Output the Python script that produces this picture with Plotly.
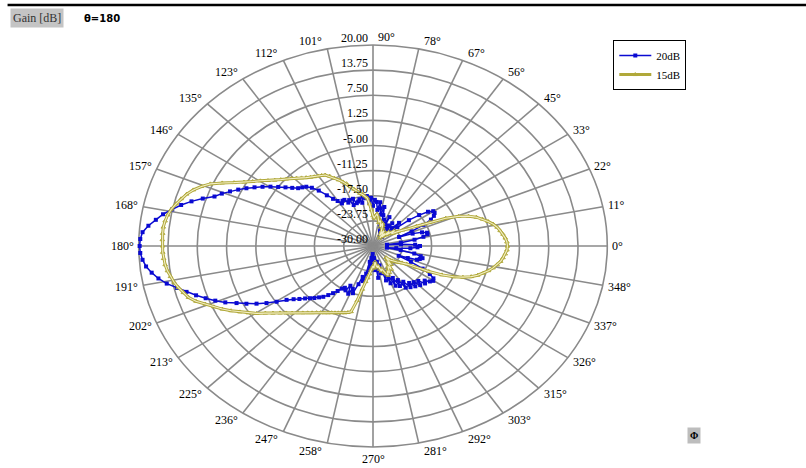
import numpy as np
import plotly.graph_objects as go

# ---------------- data (gain in dB, sampled every 2 degrees) ----------------
PHI_DEG = list(range(0, 360, 2))

GAIN_20DB = [
    -20, -21, -24, -27, -24, -21, -19, -18, -18, -19,          # 0-18
    -21, -24, -21, -18, -16, -15, -14.5, -14.5, -15.5, -17.5,  # 20-38
    -20, -23, -25, -22, -24, -27, -25, -23, -26, -24,          # 40-58
    -27, -25, -22, -24, -26, -23, -25, -22, -20, -22,          # 60-78
    -20.5, -19, -21, -19, -18.5, -20, -18, -19, -17.5, -18,    # 80-98
    -17.5, -19, -18, -18.5, -18.8, -17.5, -19, -17.5, -18, -17,  # 100-118
    -17, -17.5, -16.5, -15.5, -14, -12, -10.5, -9.5, -9, -8.5,   # 120-138
    -7.5, -6.3, -5, -3.6, -2.2, -0.8, 0.6, 2.0, 3.4, 4.8,        # 140-158
    6.0, 8.2, 10.3, 12.2, 13.8, 15.5, 16.8, 18.2, 19.3, 19.7,    # 160-178
    19.8, 19.7, 19.3, 18.7, 17.7, 16.5, 15.0, 13.1, 11.4, 9.7,   # 180-198
    8.0, 6.3, 4.5, 2.4, 0.6, -1.3, -3.2, -5.2, -7.2, -8.5,       # 200-218
    -9.5, -10.5, -11.3, -12, -12.8, -13.5, -14.5, -15.5, -16.5, -17.5,  # 220-238
    -18, -17.5, -19, -17, -18.5, -17.5, -20, -22, -21, -23,      # 240-258
    -26, -24, -27, -25, -28, -26, -24, -27, -25, -22,            # 260-278
    -24, -26, -23, -25, -21, -23, -20, -22, -19, -21,            # 280-298
    -18.5, -20, -17.5, -19, -17, -18, -16.5, -17.5, -16, -17,    # 300-318
    -15.5, -16, -15, -14.5, -14.8, -16, -18, -21, -24, -22,      # 320-338
    -20, -19.5, -19, -19.5, -21, -24, -27, -25, -22, -20.5,      # 340-358
]

GAIN_15DB = [
    -1.3, -1.4, -1.7, -2.1, -2.6, -3.1, -3.8, -4.7, -5.7, -6.8,      # 0-18
    -8.3, -10.3, -13, -16.5, -19.5, -21.5, -22.5, -23.5, -24.5, -25,  # 20-38
    -24, -25.5, -26, -25, -26.5, -27, -26, -27.5, -26.5, -25.5,      # 40-58
    -26, -27, -26, -25, -24.5, -24, -25, -24, -23.5, -24,            # 60-78
    -23, -22.5, -22, -22.5, -23, -22.5, -21, -19.5, -18, -17.4,      # 80-98
    -17, -16.6, -16, -15.3, -14.5, -13.5, -12.8, -12, -11.2, -10.3,  # 100-118
    -9.6, -9.3, -9.0, -8.7, -8.3, -7.8, -7.2, -6.5, -5.8, -5.1,      # 120-138
    -4.3, -3.4, -2.3, -1.0, 0.3, 1.8, 3.6, 5.8, 8.0, 9.5,            # 140-158
    10.8, 11.8, 12.6, 13.3, 14.0, 14.5, 14.8, 15.0, 15.0, 15.0,      # 160-178
    14.9, 14.9, 14.8, 14.6, 14.3, 13.9, 13.4, 12.8, 12.1, 11.4,      # 180-198
    10.2, 8.6, 7.2, 5.8, 4.3, 2.8, 1.4, 0.0, -1.6, -2.9,             # 200-218
    -4.1, -5.1, -6.0, -6.9, -7.6, -8.3, -8.9, -9.5, -10.0, -10.4,    # 220-238
    -10.8, -11.2, -11.5, -11.8, -12.1, -12.3, -12.6, -13.0, -16.0, -19.0,  # 240-258
    -21, -22, -23, -24, -24.5, -25, -24.5, -25.5, -26, -25,          # 260-278
    -24.5, -25, -24, -23.5, -24, -23, -22.5, -22, -23, -22.5,        # 280-298
    -23.5, -24, -23, -24.5, -25, -24, -25.5, -26, -25, -24.5,        # 300-318
    -24, -23.5, -23, -22.5, -21.5, -19.5, -16.5, -13.6, -11.2, -9.3,  # 320-338
    -7.7, -6.5, -5.5, -4.6, -3.8, -3.1, -2.5, -2.1, -1.7, -1.4,      # 340-358
]

SERIES_NAMES = ["20dB", "15dB"]
R_MIN, R_MAX = -30.0, 20.0
RING_LABELS = ["20.00", "13.75", "7.50", "1.25", "-5.00", "-11.25", "-17.50", "-23.75", "-30.00"]
RING_VALUES = [20.0, 13.75, 7.5, 1.25, -5.0, -11.25, -17.5, -23.75, -30.0]
ANGLE_TICKS = [0, 11.25, 22.5, 33.75, 45, 56.25, 67.5, 78.75, 90, 101.25, 112.5, 123.75,
               135, 146.25, 157.5, 168.75, 180, 191.25, 202.5, 213.75, 225, 236.25,
               247.5, 258.75, 270, 281.25, 292.5, 303.75, 315, 326.25, 337.5, 348.75]
ANGLE_LABELS = ["0°", "11°", "22°", "33°", "45°", "56°", "67°", "78°", "90°", "101°", "112°",
                "123°", "135°", "146°", "157°", "168°", "180°", "191°", "202°", "213°", "225°",
                "236°", "247°", "258°", "270°", "281°", "292°", "303°", "315°", "326°", "337°",
                "348°"]

# ---------------- geometry (pixel layout of the elliptical chart) ----------------
W, H = 806, 468
CX, CY = 373.0, 246.0     # centre in px
RX, RY = 234.0, 201.0     # outer ring semi-axes in px
PAD = 1.05
plot_w, plot_h = 2 * PAD * RX, 2 * PAD * RY
ML = CX - PAD * RX
MR = W - (CX + PAD * RX)
MT = CY - PAD * RY
MB = H - (CY + PAD * RY)


def norm(db):
    return (np.asarray(db, dtype=float) - R_MIN) / (R_MAX - R_MIN)


def px_to_paper(px, py):
    return (px - ML) / plot_w, 1 - (py - MT) / plot_h


fig = go.Figure()

SERIF = "Liberation Serif, Times New Roman, serif"
GRID = "#8a8a8a"
BLUE = "#0a0ad2"
OLIVE = "#b0a83a"

# grid rings and spokes as shapes in data coordinates (ellipses in pixel space)
shapes = []
for v in RING_VALUES[:-1]:
    r = float(norm(v))
    shapes.append(dict(type="circle", xref="x", yref="y", x0=-r, x1=r, y0=-r, y1=r,
                       line=dict(color=GRID, width=1.6), layer="below"))
for a in ANGLE_TICKS:
    t = np.deg2rad(a)
    shapes.append(dict(type="line", xref="x", yref="y", x0=0, y0=0,
                       x1=float(np.cos(t)), y1=float(np.sin(t)),
                       line=dict(color=GRID, width=1.6), layer="below"))
# top black rule
x0p, yp = px_to_paper(8, 5)
x1p, _ = px_to_paper(806, 5)
shapes.append(dict(type="line", xref="paper", yref="paper", x0=x0p, x1=x1p, y0=yp, y1=yp,
                   line=dict(color="black", width=2.5)))

# data traces
th_closed = np.deg2rad(np.array(PHI_DEG + [PHI_DEG[0]], dtype=float))
r20 = norm(list(GAIN_20DB) + [GAIN_20DB[0]])
r15 = norm(list(GAIN_15DB) + [GAIN_15DB[0]])

fig.add_trace(go.Scatter(
    x=r20 * np.cos(th_closed), y=r20 * np.sin(th_closed), mode="lines+markers",
    name=SERIES_NAMES[0], cliponaxis=False,
    line=dict(color=BLUE, width=1.5),
    marker=dict(symbol="square", size=4, color=BLUE)))
fig.add_trace(go.Scatter(
    x=r15 * np.cos(th_closed), y=r15 * np.sin(th_closed), mode="lines+markers",
    name=SERIES_NAMES[1], cliponaxis=False,
    line=dict(color=OLIVE, width=3),
    marker=dict(symbol="triangle-up-open", size=4, color=OLIVE, line=dict(width=1))))
# pale core of the olive line (double-line look)
fig.add_trace(go.Scatter(
    x=r15 * np.cos(th_closed), y=r15 * np.sin(th_closed), mode="lines",
    showlegend=False, hoverinfo="skip", cliponaxis=False,
    line=dict(color="#f3efc6", width=1.1)))

annotations = []
# radial labels along the 90 degree spoke
for lab, v in zip(RING_LABELS, RING_VALUES):
    annotations.append(dict(x=0, y=float(norm(v)), xref="x", yref="y", text=lab,
                            showarrow=False, xanchor="right", yanchor="middle",
                            xshift=-3, yshift=7, font=dict(family=SERIF, size=12, color="black")))
# angle labels
for a, lab in zip(ANGLE_TICKS, ANGLE_LABELS):
    t = np.deg2rad(a)
    c, s = np.cos(t), np.sin(t)
    if abs(a - 270) < 1e-6:
        xa, xs, ys = "center", 0, -12
    elif c >= -1e-9:
        xa, xs, ys = "left", 3, 8 * s
    else:
        xa, xs, ys = "right", -3, 8 * s
    annotations.append(dict(x=float(c), y=float(s), xref="x", yref="y", text=lab,
                            showarrow=False, xanchor=xa, yanchor="middle",
                            xshift=xs, yshift=ys,
                            font=dict(family=SERIF, size=12, color="black")))
# header
gx, gy = px_to_paper(10, 18)
annotations.append(dict(x=gx, y=gy, xref="paper", yref="paper", text="Gain [dB]",
                        showarrow=False, xanchor="left", yanchor="middle",
                        bgcolor="#c4c4c4", borderpad=2,
                        font=dict(family=SERIF, size=12, color="#333333")))
tx, ty = px_to_paper(82, 18)
annotations.append(dict(x=tx, y=ty, xref="paper", yref="paper", text="<b>θ=180</b>",
                        showarrow=False, xanchor="left", yanchor="middle",
                        font=dict(family="DejaVu Sans", size=10, color="black")))
bx, by = px_to_paper(694, 436)
annotations.append(dict(x=bx, y=by, xref="paper", yref="paper", text="<b>Φ</b>",
                        showarrow=False, xanchor="center", yanchor="middle",
                        bgcolor="#bdbdbd", borderpad=2,
                        font=dict(family=SERIF, size=10, color="black")))

lx, ly = px_to_paper(613, 40)
fig.update_layout(
    width=W, height=H,
    margin=dict(l=ML, r=MR, t=MT, b=MB, pad=0, autoexpand=False),
    paper_bgcolor="white", plot_bgcolor="white",
    xaxis=dict(range=[-PAD, PAD], visible=False, fixedrange=True),
    yaxis=dict(range=[-PAD, PAD], visible=False, fixedrange=True),
    shapes=shapes, annotations=annotations,
    showlegend=True,
    legend=dict(x=lx, y=ly, xanchor="left", yanchor="top", bgcolor="white",
                bordercolor="black", borderwidth=1, itemwidth=32, tracegroupgap=0,
                font=dict(family=SERIF, size=11, color="black")),
)

fig.write_html("out.html", config={"displayModeBar": False},
               post_script="document.body.style.margin='0';")
